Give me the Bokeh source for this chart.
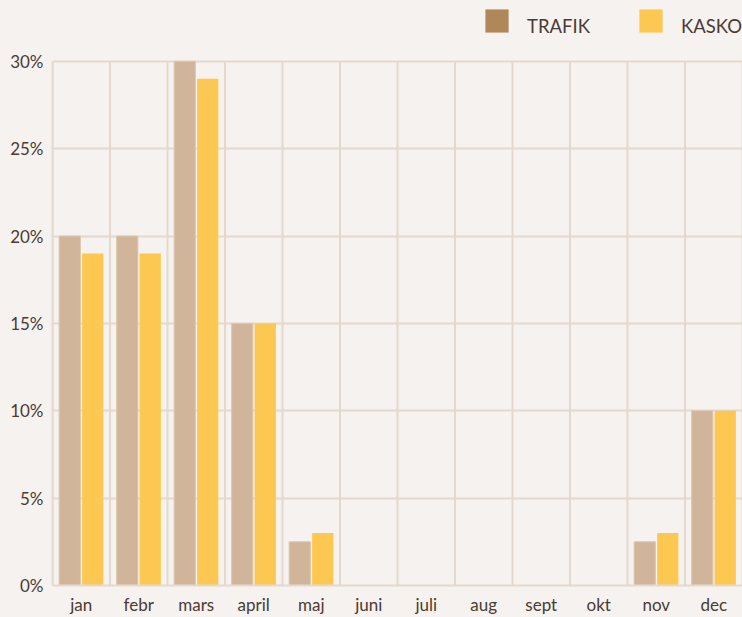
from bokeh.plotting import figure
from bokeh.models import (ColumnDataSource, FixedTicker, Legend, LegendItem,
                          GlobalInlineStyleSheet)
from bokeh.embed import file_html
from bokeh.resources import INLINE

months = ["jan", "febr", "mars", "april", "maj", "juni", "juli", "aug", "sept", "okt", "nov", "dec"]
trafik = [20, 20, 30, 15, 2.5, 0, 0, 0, 0, 0, 2.5, 10]
kasko = [19, 19, 29, 15, 3, 0, 0, 0, 0, 0, 3, 10]
series_names = ["TRAFIK", "KASKO"]
y_ticks = [0, 5, 10, 15, 20, 25, 30]
y_labels = ["0%", "5%", "10%", "15%", "20%", "25%", "30%"]

BG = "#f6f2ef"
GRID = "#e4d9cf"
TEXT = "#4a3b33"
FONT = "Lato"

# layout (pixels): plot area 526 px tall below a 61 px header band
FRAME_H, HEADER = 526, 61
y_max = max(y_ticks)
y_end = y_max * (FRAME_H + HEADER) / FRAME_H

centers = [i + 0.5 for i in range(len(months))]
bounds_x = list(range(len(months) + 1))
src = ColumnDataSource(dict(
    xt=[c - 0.2 for c in centers], xk=[c + 0.2 for c in centers],
    trafik=trafik, kasko=kasko))

p = figure(width=742, height=617, x_range=(0, len(months)), y_range=(0, y_end),
           output_backend="svg", toolbar_location=None,
           background_fill_color=BG, border_fill_color=BG,
           min_border_left=52, min_border_right=0, min_border_top=0, min_border_bottom=30)
p.outline_line_color = None

# vertical grid lines between months, only up to the top tick
p.segment(x0=bounds_x, y0=[0] * len(bounds_x), x1=bounds_x, y1=[y_max] * len(bounds_x),
          line_color=GRID, line_width=2)

p.vbar(x="xt", top="trafik", width=0.37, source=src, fill_color="#d1b59b",
       line_color="#ddc7b1", line_width=1)
p.vbar(x="xk", top="kasko", width=0.37, source=src, fill_color="#fcc851", line_color=None)

# legend swatches (zero-width proxies: only their legend swatches are visible)
s1 = p.vbar(x="xt", top="trafik", width=0, source=src, fill_color="#b08858", line_color=None)
s2 = p.vbar(x="xk", top="kasko", width=0, source=src, fill_color="#fcc851", line_color=None)
swatches = Legend(items=[LegendItem(label="", renderers=[s1]),
                         LegendItem(label="", renderers=[s2])],
                  orientation="horizontal", location=(430, 550),
                  glyph_width=29, glyph_height=29, label_standoff=0, spacing=125,
                  label_text_font_size="1px", label_height=1, label_width=0,
                  background_fill_alpha=0, border_line_color=None,
                  margin=0, padding=0)
p.add_layout(swatches)

# legend labels (invisible proxy glyphs, text sits a little lower than swatches)
t1 = p.vbar(x="xt", top="trafik", width=0, source=src, fill_alpha=0, line_color=None)
t2 = p.vbar(x="xk", top="kasko", width=0, source=src, fill_alpha=0, line_color=None)
labels = Legend(items=[LegendItem(label=series_names[0], renderers=[t1]),
                       LegendItem(label=series_names[1], renderers=[t2])],
                orientation="horizontal", location=(433, 543),
                glyph_width=23, glyph_height=23, label_standoff=19, spacing=49,
                label_text_font=FONT, label_text_font_size="18.5px", label_text_color=TEXT,
                background_fill_alpha=0, border_line_color=None,
                margin=0, padding=0, label_height=32)
p.add_layout(labels)

# axes
p.xaxis.ticker = FixedTicker(ticks=centers)
p.xaxis.major_label_overrides = {c: m for c, m in zip(centers, months)}
p.yaxis.ticker = FixedTicker(ticks=y_ticks)
p.yaxis.major_label_overrides = {t: l for t, l in zip(y_ticks, y_labels)}
p.yaxis.bounds = (0, y_max)
for ax in (p.xaxis, p.yaxis):
    ax.major_tick_line_color = None
    ax.minor_tick_line_color = None
    ax.major_tick_out = 0
    ax.major_tick_in = 0
    ax.minor_tick_out = 0
    ax.axis_label_standoff = 0
    ax.axis_line_color = GRID
    ax.axis_line_width = 2
    ax.major_label_text_font = FONT
    ax.major_label_text_font_size = "17px"
    ax.major_label_text_color = TEXT
p.xaxis.major_label_standoff = 8
p.yaxis.major_label_standoff = 9

p.xgrid.visible = False
p.ygrid.ticker = FixedTicker(ticks=y_ticks)
p.ygrid.grid_line_color = GRID
p.ygrid.grid_line_width = 2

p.stylesheets = [GlobalInlineStyleSheet(
    css="html,body{margin:0;padding:0;background:%s;overflow:hidden;}" % BG)]

open("out.html", "w").write(file_html(p, INLINE))
